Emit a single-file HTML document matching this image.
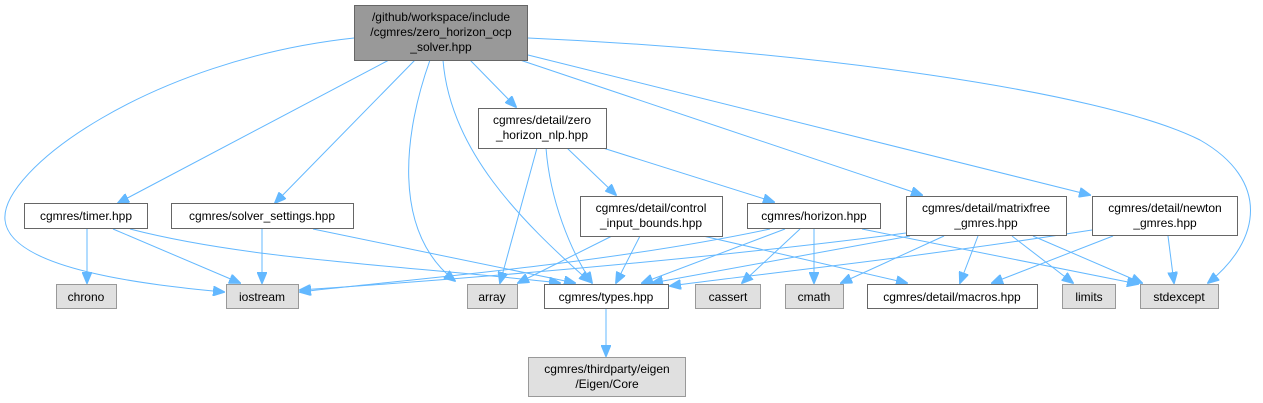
<!DOCTYPE html>
<html><head><meta charset="utf-8"><style>
html,body{margin:0;padding:0;background:#fff;}
svg{display:block;}
text{font-family:"Liberation Sans",Arial,sans-serif;font-size:12px;fill:#000;text-anchor:middle;}
.n{fill:#fff;stroke:#666;stroke-width:1;}
.g{fill:#e0e0e0;stroke:#999;stroke-width:1;}
.e{fill:none;stroke:#63b8ff;stroke-width:1;}
</style></head><body>
<svg width="1263" height="403" viewBox="0 0 1263 403" xmlns="http://www.w3.org/2000/svg">
<defs><marker id="a" markerWidth="12" markerHeight="10" refX="11" refY="5" orient="auto" markerUnits="userSpaceOnUse"><path d="M0,0 L12,5 L0,10 z" fill="#63b8ff" stroke="#63b8ff"/></marker></defs>
<g class="e" marker-end="url(#a)">
<path d="M354,38 C150,60 0,170 5,220 C10,270 150,285 224,292"/>
<path d="M389,60 L118,203"/>
<path d="M415,60 L275,203"/>
<path d="M430,60 C405,130 390,230 455,281"/>
<path d="M443,60 C450,150 520,220 590,282"/>
<path d="M470,60 L516,107"/>
<path d="M520,60 L922,195"/>
<path d="M528,55 L1090,195"/>
<path d="M528,38 C800,50 1100,90 1200,140 C1270,180 1262,240 1208,283"/>
<path d="M537,148 L500,283"/>
<path d="M546,148 C550,200 570,250 592,283"/>
<path d="M567,148 L616,195"/>
<path d="M603,148 L774,202"/>
<path d="M87,229 L87,283"/>
<path d="M113,229 L240,283"/>
<path d="M130,229 C250,260 400,265 560,283"/>
<path d="M262,229 L262,283"/>
<path d="M313,229 L575,283"/>
<path d="M612,236 L518,283"/>
<path d="M640,236 L616,283"/>
<path d="M703,236 L907,283"/>
<path d="M770,229 C600,265 400,280 300,292"/>
<path d="M785,229 L642,283"/>
<path d="M800,229 L742,283"/>
<path d="M814,229 L814,283"/>
<path d="M862,229 L1138,284"/>
<path d="M906,233 C700,260 450,280 300,290"/>
<path d="M910,236 L652,283"/>
<path d="M944,236 L841,283"/>
<path d="M978,236 L960,283"/>
<path d="M1012,236 L1073,283"/>
<path d="M1033,236 L1142,283"/>
<path d="M1092,230 C900,260 750,275 670,286"/>
<path d="M1113,236 L992,283"/>
<path d="M1168,236 L1174,283"/>
<path d="M606,309 L606,356"/>
</g>
<rect x="354.5" y="5.5" width="173" height="55" fill="#999" stroke="#666"/>
<text x="441" y="21">/github/workspace/include</text>
<text x="441" y="36">/cgmres/zero_horizon_ocp</text>
<text x="441" y="51">_solver.hpp</text>
<rect class="n" x="478.5" y="108.5" width="128" height="40"/>
<text x="542" y="124">cgmres/detail/zero</text><text x="542" y="139">_horizon_nlp.hpp</text>
<rect class="n" x="24.5" y="203.5" width="123" height="25"/><text x="86" y="220">cgmres/timer.hpp</text>
<rect class="n" x="171.5" y="203.5" width="182" height="25"/><text x="262" y="220">cgmres/solver_settings.hpp</text>
<rect class="n" x="580.5" y="196.5" width="142" height="40"/>
<text x="651" y="212">cgmres/detail/control</text><text x="651" y="227">_input_bounds.hpp</text>
<rect class="n" x="747.5" y="203.5" width="133" height="25"/><text x="814" y="220">cgmres/horizon.hpp</text>
<rect class="n" x="906.5" y="196.5" width="160" height="39"/>
<text x="986" y="212">cgmres/detail/matrixfree</text><text x="986" y="227">_gmres.hpp</text>
<rect class="n" x="1092.5" y="196.5" width="145" height="39"/>
<text x="1165" y="212">cgmres/detail/newton</text><text x="1165" y="227">_gmres.hpp</text>
<rect class="g" x="56.5" y="284.5" width="60" height="24"/><text x="86" y="301">chrono</text>
<rect class="g" x="226.5" y="284.5" width="72" height="24"/><text x="262" y="301">iostream</text>
<rect class="g" x="467.5" y="284.5" width="50" height="24"/><text x="492" y="301">array</text>
<rect class="n" x="544.5" y="284.5" width="124" height="24"/><text x="606" y="301">cgmres/types.hpp</text>
<rect class="g" x="695.5" y="284.5" width="65" height="24"/><text x="728" y="301">cassert</text>
<rect class="g" x="785.5" y="284.5" width="58" height="24"/><text x="814" y="301">cmath</text>
<rect class="n" x="867.5" y="284.5" width="170" height="24"/><text x="952" y="301">cgmres/detail/macros.hpp</text>
<rect class="g" x="1062.5" y="284.5" width="53" height="24"/><text x="1089" y="301">limits</text>
<rect class="g" x="1140.5" y="284.5" width="78" height="24"/><text x="1179" y="301">stdexcept</text>
<rect class="g" x="528.5" y="357.5" width="157" height="39"/>
<text x="607" y="373">cgmres/thirdparty/eigen</text><text x="607" y="388">/Eigen/Core</text>
</svg>
</body></html>
